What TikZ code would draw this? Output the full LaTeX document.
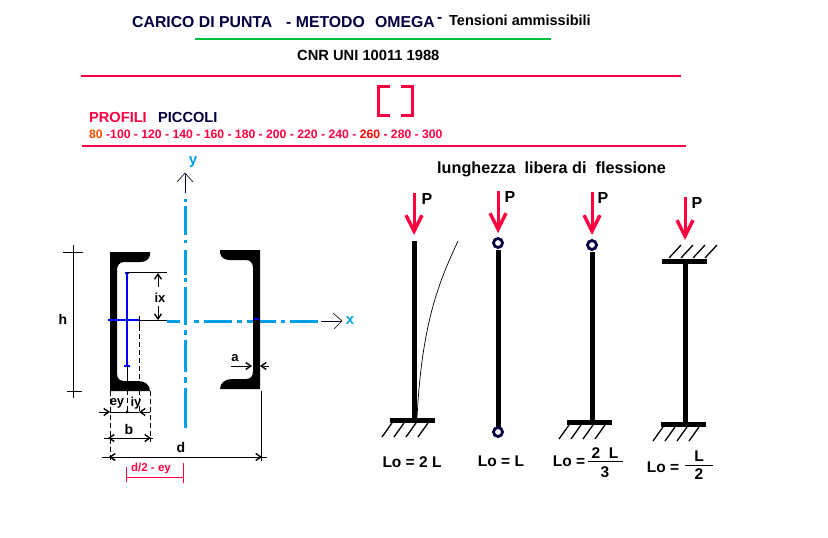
\documentclass[tikz,border=0pt]{standalone}
\usepackage{fontspec}
\setmainfont{Liberation Sans}
\usepackage{xcolor}
\usetikzlibrary{arrows.meta,calc}
\definecolor{pinkred}{HTML}{FF0040}
\definecolor{navytxt}{HTML}{000040}
\definecolor{linegreen}{HTML}{00C040}
\definecolor{axiscyan}{HTML}{00A0E8}
\tikzset{
    txtbig/.style={anchor=west, inner sep=0pt, font=\bfseries\fontsize{15.8}{16}\selectfont},
    txtdim/.style={anchor=center, inner sep=0pt, font=\bfseries\fontsize{13}{13}\selectfont},
    txtlen/.style={anchor=center, inner sep=0pt, font=\bfseries\fontsize{15.5}{16}\selectfont},
    rule/.style={line width=2.4pt},
    axisline/.style={axiscyan, line width=3pt},
    dimtip/.style={-{Straight Barb[length=5pt,width=7pt,line width=1.4pt]}, line width=0.8pt},
    loadarrow/.style={pinkred, line width=3pt, -{Straight Barb[length=16pt,width=16pt,line width=3.4pt]}},
    column/.style={line width=5pt},
    hatchline/.style={line width=1.3pt},
    pinned/.style={circle, draw=navytxt, line width=2.8pt, minimum size=9pt, inner sep=0pt, fill=white},
    dashedthin/.style={dashed, dash pattern=on 5pt off 3pt, line width=0.8pt}
}
\begin{document}
\begin{tikzpicture}[x=1pt, y=-1pt]
    \useasboundingbox (0,0) rectangle (828,538);

    % Title
    \node[txtbig, text=navytxt] (titleA) at (132,22) {CARICO DI PUNTA};
    \node[txtbig, text=navytxt] (titleB) at (286,22) {- METODO};
    \node[txtbig, text=navytxt] (titleC) at (375,22) {OMEGA};
    \node[txtbig, text=navytxt] (titleD) at (437,20) {-};
    \node[anchor=west, inner sep=0pt, font=\bfseries\fontsize{14.5}{15}\selectfont] (titleE) at (449,20) {Tensioni ammissibili};
    \draw[linegreen, rule] (195,39) -- (551,39);
    \node[anchor=west, inner sep=0pt, font=\bfseries\fontsize{14.7}{15}\selectfont] (norm) at (297,55) {CNR UNI 10011 1988};
    \draw[pinkred, rule] (81,76) -- (681,76);

    % Profiles
    \draw[pinkred, line width=3pt] (390,86.5) -- (378.5,86.5) -- (378.5,115.5) -- (390,115.5);
    \draw[pinkred, line width=3pt] (401,86.5) -- (412.5,86.5) -- (412.5,115.5) -- (401,115.5);
    \node[txtbig, font=\bfseries\fontsize{14.6}{15}\selectfont, text=pinkred] (prof) at (89,117) {PROFILI};
    \node[txtbig, font=\bfseries\fontsize{14.6}{15}\selectfont, text=navytxt] (small) at (158,117) {PICCOLI};
    \node[anchor=west, inner sep=0pt, text=pinkred, font=\bfseries\fontsize{12.2}{13}\selectfont] (sizes) at (89,134)
        {\textcolor{orange!60!red}{80} -100 - 120 - 140 - 160 - 180 - 200 - 220 - 240 - \textcolor{red}{260} - 280 - 300};
    \draw[pinkred, rule] (82,146) -- (686,146);

    % Axes
    \foreach \a/\b in {199/202, 206/235, 240/243, 250/275, 278/282, 287/325, 330/335, 340/372, 377/383, 388/428} {
        \draw[axisline] (185,\a) -- (185,\b);
    }
    \foreach \a/\b in {167/180, 194/199, 204/232, 237/242, 247/276, 281/285, 290/318} {
        \draw[axisline] (\a,321) -- (\b,321);
    }
    \draw[navytxt, line width=0.8pt] (185,193) -- (185,174);
    \draw[line width=0.6pt] (177,182) -- (185,173) -- (193,182);
    \draw[navytxt, line width=0.8pt] (321,321) -- (341,321);
    \draw[line width=0.6pt] (333,313) -- (342,321) -- (334,329);
    \node[inner sep=0pt, text=axiscyan, font=\bfseries\fontsize{15}{15}\selectfont] (ylab) at (193,162) {y};
    \node[inner sep=0pt, text=axiscyan, font=\bfseries\fontsize{15}{15}\selectfont] (xlab) at (350,321) {x};

    % Sections
    \fill (110,252) -- (150,252) -- (150,255) .. controls (149,260) and (145,262) .. (140,262) -- (124,262)
        .. controls (119,262) and (117,266) .. (117,270) -- (117,373) .. controls (117,378) and (119,381) .. (124,381)
        -- (138,381) .. controls (145,381) and (150,385) .. (150,391) -- (110,391) -- cycle;
    \fill (260,250) -- (220,250) -- (220,253) .. controls (221,258) and (225,260) .. (230,260) -- (246,260)
        .. controls (251,260) and (253,264) .. (253,268) -- (253,371) .. controls (253,376) and (251,379) .. (246,379)
        -- (232,379) .. controls (225,379) and (220,383) .. (220,389) -- (260,389) -- cycle;
    \draw[blue, line width=2pt] (254,319) -- (259,319);

    % Centroid
    \draw[blue, line width=2pt] (108,320) -- (139,320);
    \draw[blue, line width=2pt] (127,273) -- (127,366);
    \draw[blue, line width=1.5pt] (125,273) -- (129,273);
    \draw[blue, line width=1.5pt] (124,366) -- (130,366);
    \draw[line width=0.8pt] (139,316) -- (139,326);
    \draw[line width=0.8pt] (127,272) -- (167,272);
    \draw[line width=0.8pt] (139,320) -- (167,320);

    % Dimensions
    \draw[line width=0.8pt] (73,245) -- (73,398);
    \draw[line width=0.8pt] (63,252) -- (83,252);
    \draw[line width=0.8pt] (67,391) -- (82,391);
    \node[txtdim, font=\bfseries\fontsize{14}{14}\selectfont] (hlab) at (63,319) {h};
    \draw[dimtip] (158,287) -- (158,273);
    \draw[dimtip] (158,306) -- (158,320);
    \node[txtdim] (ixlab) at (160,298) {ix};
    \draw[line width=0.8pt] (127,366) -- (127,382);
    \draw[dashedthin] (127,382) -- (127,412);
    \draw[dashedthin] (139,326) -- (139,412);
    \draw[dashedthin] (110,391) -- (110,463);
    \draw[dashedthin] (150,391) -- (150,442);
    \draw[line width=0.8pt] (261,391) -- (261,456);
    \draw[dashedthin] (261,456) -- (261,464);
    \node[txtdim] (eylab) at (117,403) {ey};
    \node[txtdim] (iylab) at (136,403) {iy};
    \draw[dimtip] (99,412) -- (110,412);
    \draw[dimtip] (150,412) -- (139,412);
    \draw[line width=0.8pt] (110,412) -- (139,412);
    \fill (127,412) circle (1.6pt);
    \draw[dimtip] (129,438) -- (108,438);
    \draw[dimtip] (129,438) -- (151,438);
    \draw[line width=0.8pt] (104,438) -- (153,438);
    \node[txtdim, font=\bfseries\fontsize{14}{14}\selectfont] (blab) at (129,429) {b};
    \draw[dimtip] (181,457) -- (109,457);
    \draw[dimtip] (181,457) -- (262,457);
    \draw[line width=0.8pt] (102,457) -- (267,457);
    \node[txtdim, font=\bfseries\fontsize{14}{14}\selectfont] (dlab) at (181,447) {d};
    \draw[dimtip] (231,366) -- (252,366);
    \draw[dimtip] (269,366) -- (260,366);
    \node[txtdim] (alab) at (235,358) {a};
    \draw[pinkred, line width=0.8pt] (126,477) -- (183,477);
    \draw[pinkred, line width=0.8pt] (126,467) -- (126,482);
    \draw[pinkred, line width=0.8pt] (183,463) -- (183,483);
    \node[inner sep=0pt, text=pinkred, font=\bfseries\fontsize{11.5}{12}\selectfont] (dhalf) at (151,469) {d/2 - ey};

    % Heading of the columns
    \node[anchor=west, inner sep=0pt, font=\bfseries\fontsize{16.2}{17}\selectfont] (freelen) at (437,169) {lunghezza\ \ libera di\ \ flessione};

    % Loads
    \foreach \x/\a/\b/\px/\py/\n in {414/193/235/427/199/A, 498/191/233/510/197/B, 592/192/235/603/198/C, 685/197/240/697/203/D} {
        \draw[loadarrow] (\x,\a) -- (\x,\b);
        \node[inner sep=0pt, font=\bfseries\fontsize{16}{16}\selectfont] (load\n) at (\px,\py) {P};
    }

    % Columns
    \draw[column] (414,241) -- (414,420);
    \draw[column] (498,250) -- (498,427);
    \draw[column] (592,252) -- (592,422);
    \draw[column] (685,261) -- (685,424);
    \draw[line width=0.7pt] (458,241) .. controls (440,280) and (422,320) .. (417,418);

    % Supports
    \node[pinned] (pinB) at (498,243) {};
    \node[pinned] (pinC) at (498,432) {};
    \node[pinned] (pinD) at (592,245) {};
    \draw[column] (390,420) -- (435,420);
    \draw[column] (567,422) -- (612,422);
    \draw[column] (662,261) -- (707,261);
    \draw[column] (661,424) -- (706,424);
    \foreach \x/\y in {392/423, 569/425, 663/427} {
        \foreach \k in {0,1,2,3} {
            \draw[hatchline] ($(\x,\y)+(\k*12,0)$) -- ($(\x,\y)+(\k*12-10,14)$);
        }
    }
    \foreach \k in {0,1,2,3} {
        \draw[hatchline] ($(681,245)+(\k*12,0)$) -- ($(681,245)+(\k*12-12,13)$);
    }

    % Free lengths
    \node[txtlen] (loA) at (412,462) {Lo = 2 L};
    \node[txtlen] (loB) at (501,461) {Lo = L};
    \node[txtlen] (loC) at (569,461) {Lo =};
    \draw[line width=1pt] (588,461) -- (623,461);
    \node[txtlen] (numC) at (605,453) {2\ \ L};
    \node[txtlen] (denC) at (605,472) {3};
    \node[txtlen] (loD) at (663,467) {Lo =};
    \draw[line width=1pt] (685,465) -- (713,465);
    \node[txtlen] (numD) at (699,456) {L};
    \node[txtlen] (denD) at (699,474) {2};
\end{tikzpicture}
\end{document}
